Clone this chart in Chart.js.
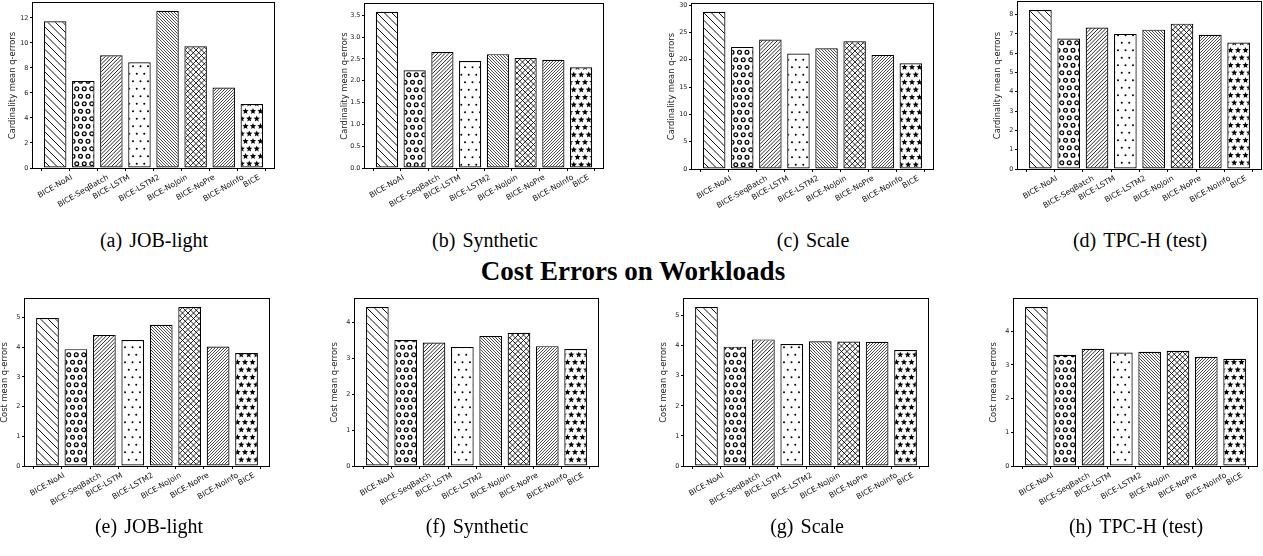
<!DOCTYPE html>
<html><head><meta charset="utf-8">
<script src="https://cdn.jsdelivr.net/npm/chart.js@4.4.1/dist/chart.umd.min.js"></script>
<style>
html,body{margin:0;padding:0;background:#fff;}
body{width:1263px;height:556px;position:relative;overflow:hidden;}
canvas{position:absolute;}
.cap{position:absolute;font-family:"Liberation Serif","Times New Roman",serif;font-size:20px;color:#000;white-space:nowrap;transform:translate(-50%,-50%);line-height:1;}
.cap span{margin-left:7px;}
.title{position:absolute;font-family:"Liberation Serif","Times New Roman",serif;font-weight:bold;font-size:27px;color:#000;white-space:nowrap;transform:translate(-50%,-50%);line-height:1;}
</style></head><body>
<div class="title" style="left:633px;top:271px;">Cost Errors on Workloads</div>
<script>
// ---- data ----
const categories = ['BICE-NoAI','BICE-SeqBatch','BICE-LSTM','BICE-LSTM2','BICE-NoJoin','BICE-NoPre','BICE-NoInfo','BICE'];
const cardJOB   = [11.73, 6.96, 9.01, 8.45, 12.56, 9.73, 6.43, 5.12];
const cardSyn   = [3.58, 2.24, 2.66, 2.45, 2.61, 2.52, 2.48, 2.31];
const cardScale = [28.78, 22.36, 23.70, 21.14, 22.11, 23.40, 20.90, 19.37];
const cardTPCH  = [8.24, 6.76, 7.33, 7.00, 7.22, 7.53, 6.95, 6.55];
const costJOB   = [4.98, 3.93, 4.41, 4.24, 4.75, 5.35, 4.02, 3.80];
const costSyn   = [4.42, 3.50, 3.43, 3.31, 3.61, 3.70, 3.33, 3.25];
const costScale = [5.29, 3.97, 4.21, 4.06, 4.15, 4.14, 4.13, 3.86];
const costTPCH  = [4.72, 3.30, 3.48, 3.37, 3.39, 3.42, 3.24, 3.18];
const seriesList = [cardJOB, cardSyn, cardScale, cardTPCH, costJOB, costSyn, costScale, costTPCH];
const yTickSteps = [2, 0.5, 5, 1, 1, 1, 1, 1];
const yTickDecimals = [0, 1, 0, 0, 0, 0, 0, 0];
const yTitles = ['Cardinality mean q-errors','Cardinality mean q-errors','Cardinality mean q-errors','Cardinality mean q-errors',
                 'Cost mean q-errors','Cost mean q-errors','Cost mean q-errors','Cost mean q-errors'];
const captionTags = ['(a)','(b)','(c)','(d)','(e)','(f)','(g)','(h)'];
const captionTexts = ['JOB-light','Synthetic','Scale','TPC-H (test)','JOB-light','Synthetic','Scale','TPC-H (test)'];

// ---- layout (plot areas in page pixels) ----
const layout = [
  {l:33,  r:274,  t:3, b:168}, {l:365, r:603, t:4, b:168}, {l:692, r:933, t:4, b:169}, {l:1018, r:1261, t:2, b:169},
  {l:25,  r:269,  t:299, b:466}, {l:355, r:598, t:299, b:466}, {l:684, r:928, t:299, b:466}, {l:1014, r:1257, t:299, b:466}
];
const capPos = [
  {x:154, y:240}, {x:485, y:240}, {x:813, y:240}, {x:1140, y:240},
  {x:149, y:526}, {x:477, y:526}, {x:807, y:526}, {x:1136, y:526}
];

// ---- hatch patterns ----
function tile(w, h, draw) {
  const c = document.createElement('canvas'); c.width = w; c.height = h;
  const g = c.getContext('2d');
  g.fillStyle = '#fff'; g.fillRect(0, 0, w, h);
  g.strokeStyle = '#000'; g.fillStyle = '#000'; g.lineWidth = 1;
  draw(g, w, h);
  return c;
}
function diagLines(g, T, n, back, lw) {
  g.lineWidth = lw;
  for (let k = -n; k <= 2 * n; k++) {
    const o = k * T / n;
    g.beginPath();
    if (back) { g.moveTo(o, 0); g.lineTo(o + T, T); }
    else { g.moveTo(o, T); g.lineTo(o + T, 0); }
    g.stroke();
  }
}
function shapePts(W) {
  const s = W / 2;
  return [[s/2, s/2], [s/2 + s, s/2], [0, s/2 + s], [s, s/2 + s], [2*s, s/2 + s],
          [s/2, s/2 - W], [s/2 + s, s/2 - W], [s/2, W + s/2], [s/2 + s, W + s/2],
          [0, s/2 + s - W], [2*s, s/2 + s - W]];
}
function star(g, x, y, R, r) {
  g.beginPath();
  for (let i = 0; i < 10; i++) {
    const rad = i % 2 === 0 ? R : r;
    const a = -Math.PI / 2 + i * Math.PI / 5;
    const px = x + rad * Math.cos(a), py = y + rad * Math.sin(a);
    if (i === 0) g.moveTo(px, py); else g.lineTo(px, py);
  }
  g.closePath(); g.fill();
}
function makePatterns(ctx) {
  const tiles = [
    tile(15, 15, (g) => diagLines(g, 15, 2, true, 0.95)),
    tile(15, 15, (g) => { g.lineWidth = 1.3; shapePts(15).forEach(([x, y]) => { g.beginPath(); g.arc(x, y, 1.9, 0, Math.PI * 2); g.stroke(); }); }),
    tile(15, 15, (g) => diagLines(g, 15, 4, false, 0.85)),
    tile(15, 15, (g) => { shapePts(15).forEach(([x, y]) => { g.beginPath(); g.arc(x, y, 1.0, 0, Math.PI * 2); g.fill(); }); }),
    tile(15, 15, (g) => diagLines(g, 15, 5, true, 0.7)),
    tile(11, 11, (g) => { diagLines(g, 11, 2, true, 0.85); diagLines(g, 11, 2, false, 0.85); }),
    tile(15, 15, (g) => diagLines(g, 15, 5, false, 0.7)),
    tile(15, 15, (g) => { shapePts(15).forEach(([x, y]) => star(g, x, y, 3.3, 1.45)); })
  ];
  return tiles.map(t => ctx.createPattern(t, 'repeat'));
}

// ---- plugin: axes box + rotated category labels ----
const frameAndLabels = {
  id: 'frameAndLabels',
  afterDatasetsDraw(chart) {
    const {ctx, chartArea: a, scales: {x}} = chart;
    ctx.save();
    ctx.strokeStyle = '#000'; ctx.lineWidth = 1;
    ctx.strokeRect(Math.round(a.left) - 0.5, Math.round(a.top) - 0.5, Math.round(a.right - a.left) + 1, Math.round(a.bottom - a.top) + 1);
    const fs = 7.7;
    ctx.font = fs + 'px "DejaVu Sans"';
    ctx.fillStyle = '#111'; ctx.textAlign = 'center'; ctx.textBaseline = 'middle';
    const ang = 30 * Math.PI / 180;
    categories.forEach((c, i) => {
      const px = x.getPixelForValue(i);
      const w = ctx.measureText(c).width, h = fs * 1.17;
      const bh = w * Math.sin(ang) + h * Math.cos(ang);
      const cy = a.bottom + 5 + bh / 2;
      ctx.save(); ctx.translate(px, cy); ctx.rotate(-ang); ctx.fillText(c, 0, 0); ctx.restore();
    });
    ctx.restore();
  }
};

const PADL = 35, PADT = 8, PADR = 2, PADB = 50;
seriesList.forEach((vals, p) => {
  const L = layout[p];
  const cv = document.createElement('canvas');
  const W = (L.r - L.l) + PADL + PADR, H = (L.b - L.t) + PADT + PADB;
  cv.width = W; cv.height = H;
  cv.style.left = (L.l - PADL) + 'px'; cv.style.top = (L.t - PADT) + 'px';
  cv.style.width = W + 'px'; cv.style.height = H + 'px';
  document.body.appendChild(cv);
  const ctx = cv.getContext('2d');
  const pats = makePatterns(ctx);
  const ymax = Math.max(...vals) * 1.05;
  const dec = yTickDecimals[p];
  new Chart(ctx, {
    type: 'bar',
    data: {
      datasets: [{
        data: vals.map((v, i) => ({x: i, y: v})),
        backgroundColor: pats,
        borderColor: '#000',
        borderWidth: 1.2,
        borderSkipped: false,
        categoryPercentage: 1.0,
        barPercentage: 0.8
      }]
    },
    options: {
      responsive: false, animation: false, devicePixelRatio: 1, events: [],
      layout: {padding: {left: 0, top: PADT, right: PADR, bottom: 0}},
      plugins: {legend: {display: false}, tooltip: {enabled: false}},
      scales: {
        x: {
          type: 'linear', min: -0.79, max: 7.79, offset: false,
          ticks: {display: false, stepSize: 1, includeBounds: false},
          grid: {display: true, drawOnChartArea: false, drawTicks: true, tickLength: 3, color: '#000', lineWidth: 1},
          border: {display: false},
          afterFit: (s) => { s.height = PADB; }
        },
        y: {
          min: 0, max: ymax,
          ticks: {stepSize: yTickSteps[p], includeBounds: false, padding: 1.5, color: '#222',
                  font: {family: 'DejaVu Sans', size: 6.5},
                  callback: (v) => Number(v).toFixed(dec)},
          grid: {display: true, drawOnChartArea: false, drawTicks: true, tickLength: 3, color: '#000', lineWidth: 1},
          border: {display: false},
          title: {display: true, text: yTitles[p], color: '#222', font: {family: 'DejaVu Sans', size: 8.4}, padding: {top: 10, bottom: 0}},
          afterFit: (s) => { s.width = PADL; }
        }
      }
    },
    plugins: [frameAndLabels]
  });
  const cap = document.createElement('div');
  cap.className = 'cap';
  cap.appendChild(document.createTextNode(captionTags[p]));
  const sp = document.createElement('span'); sp.textContent = captionTexts[p];
  cap.appendChild(sp);
  cap.style.left = capPos[p].x + 'px'; cap.style.top = capPos[p].y + 'px';
  document.body.appendChild(cap);
});
</script>
</body></html>
